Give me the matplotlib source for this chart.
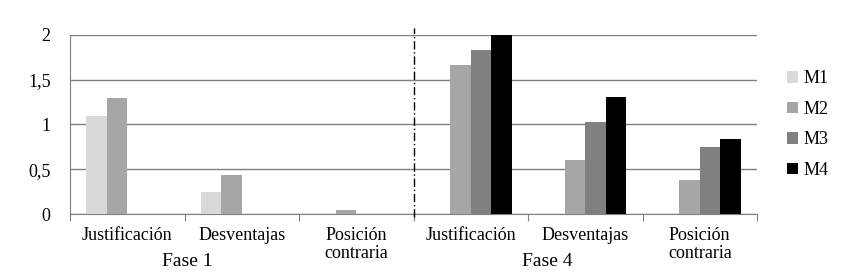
import matplotlib
matplotlib.use("Agg")
import matplotlib.pyplot as plt
import numpy as np

plt.rcParams['font.family'] = ['Liberation Serif', 'DejaVu Serif']

cats = ["Justificación", "Desventajas", "Posición\ncontraria",
        "Justificación", "Desventajas", "Posición\ncontraria"]
fases = ["Fase 1", "Fase 4"]
series = ["M1", "M2", "M3", "M4"]
m1 = [1.1, 0.25, 0, 0, 0, 0]
m2 = [1.3, 0.44, 0.05, 1.66, 0.60, 0.38]
m3 = [0, 0, 0, 1.83, 1.03, 0.75]
m4 = [0, 0, 0, 2.0, 1.31, 0.84]
colors = ["#d9d9d9", "#a6a6a6", "#808080", "#000000"]

fig = plt.figure(figsize=(8.52, 2.79), dpi=100)
ax = fig.add_axes([0.0822, 0.232, 0.8063, 0.6436])

x = np.arange(len(cats))
w = 0.18
for i, vals in enumerate([m1, m2, m3, m4]):
    ax.bar(x + (i - 1.5) * w, vals, w, color=colors[i], label=series[i], zorder=3)

ax.set_xlim(-0.5, 5.5)
ax.set_ylim(0, 2)
ax.set_yticks([0, 0.5, 1, 1.5, 2])
ax.set_yticklabels(["0", "0,5", "1", "1,5", "2"], fontsize=13)
ax.yaxis.grid(True, color="#7f7f7f", linewidth=1, zorder=0)
ax.tick_params(axis='y', length=0, pad=14)

ax.set_xticks(np.arange(-0.5, 6, 1))
ax.set_xticklabels([])
ax.set_xticks(x, minor=True)
ax.set_xticklabels(cats, minor=True, fontsize=13, linespacing=1.1, va='top')
ax.tick_params(axis='x', which='major', length=5, color="#7f7f7f", direction='out')
ax.tick_params(axis='x', which='minor', length=0, pad=9)

for s in ["top", "right"]:
    ax.spines[s].set_visible(False)
ax.spines["left"].set_color("#7f7f7f")
ax.spines["bottom"].set_color("#7f7f7f")

# separador entre fases
ax.plot([2.5, 2.5], [-0.03, 2.07], color="black", linestyle=(0, (6, 2, 1, 2)),
        linewidth=1, clip_on=False, zorder=4)

fig.text(187 / 852, 1 - 261 / 279, fases[0], ha='center', va='center', fontsize=14)
fig.text(547 / 852, 1 - 261 / 279, fases[1], ha='center', va='center', fontsize=14)

ax.legend(loc='center left', bbox_to_anchor=(1.02, 0.5), frameon=False,
          fontsize=13, handlelength=0.6, handleheight=0.6, handletextpad=0.3,
          labelspacing=0.75)

fig.savefig("out.png", dpi=100)
